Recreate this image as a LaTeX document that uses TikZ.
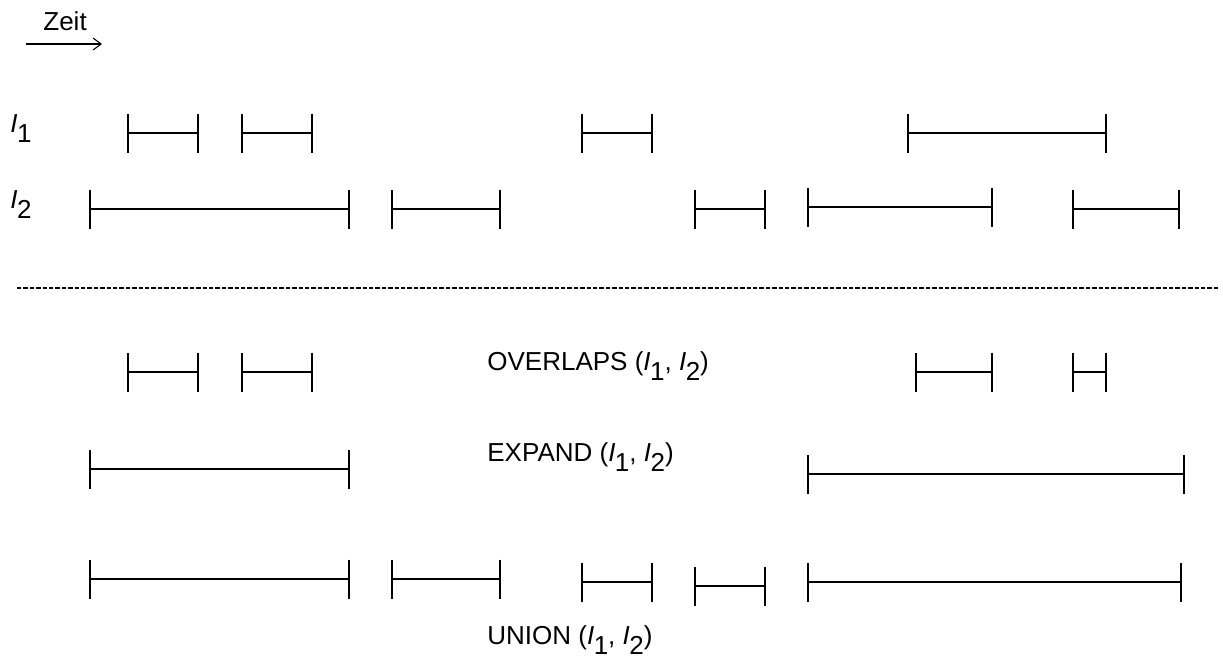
\documentclass[tikz,border=0pt]{standalone}
\usepackage{fontspec}
\setmainfont{Liberation Sans}
\usetikzlibrary{arrows.meta}
\newcommand\lowsub[1]{\kern-0.02em\raisebox{-0.4em}{#1}}
\newcommand\Ione{\textit{I}\lowsub{1}}
\newcommand\Itwo{\textit{I}\lowsub{2}}
\begin{document}
\begin{tikzpicture}[x=0.5pt,y=-0.5pt,
  interval/.style={line width=1.05pt,{Bar[width=19.5pt]}-{Bar[width=19.5pt]}},
  label/.style={anchor=base west,inner sep=0pt,font=\fontsize{13}{15.6}\selectfont},
  separator/.style={line width=1.1pt,dash pattern=on 2.2pt off 1pt}]
\useasboundingbox (0,0) rectangle (1223,659);

% time direction
\node[label] (zeit) at (43,30) {Zeit};
\coordinate (t0) at (26,44);
\coordinate (t1) at (102,44);
\draw[line width=0.55pt,-{Straight Barb[length=4pt,width=6pt]}] (t0) -- (t1);

% row labels
\node[label] (i1) at (10,132) {\Ione};
\node[label] (i2) at (10,208) {\Itwo};

% input intervals
\foreach \a/\b in {127/199,241/313,581/653,907/1107}
  \draw[interval] (\a,133) -- (\b,133);
\foreach \a/\b/\y in {89/350/209,391/501/209,694/766/209,807/993/207,1072/1180/209}
  \draw[interval] (\a,\y) -- (\b,\y);

% separator
\draw[separator] (17,288) -- (1218,288);

% OVERLAPS
\foreach \a/\b in {127/199,241/313,915/993,1072/1107}
  \draw[interval] (\a,372) -- (\b,372);
\node[label] (ov) at (487,370) {OVERLAPS (\Ione, \Itwo)};

% EXPAND
\draw[interval] (89,469) -- (350,469);
\draw[interval] (807,474) -- (1185,474);
\node[label] (ex) at (487,461) {EXPAND (\Ione, \Itwo)};

% UNION
\foreach \a/\b/\y in {89/350/579,391/501/579,581/653/582,694/766/586,807/1182/582}
  \draw[interval] (\a,\y) -- (\b,\y);
\node[label] (un) at (487,644) {UNION (\Ione, \Itwo)};
\end{tikzpicture}
\end{document}
